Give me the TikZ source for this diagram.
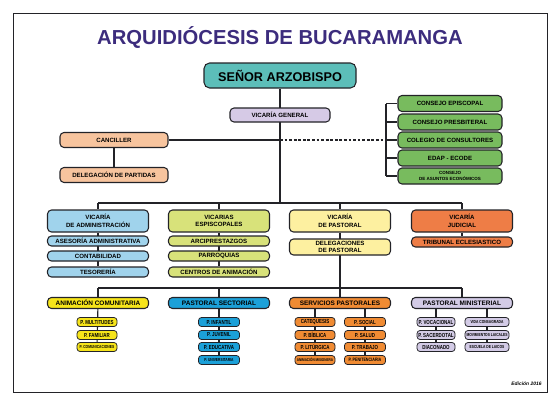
\documentclass[tikz,border=0pt]{standalone}
\usepackage{fontspec}
\setmainfont{Liberation Sans}
\newfontfamily\narrowsans[FakeStretch=0.76]{Liberation Sans}
\usetikzlibrary{backgrounds}
\definecolor{titlePurple}{RGB}{60,44,125}
\definecolor{boxLine}{RGB}{35,35,40}
\definecolor{arzTeal}{RGB}{92,190,185}
\definecolor{genLila}{RGB}{214,202,230}
\definecolor{cancPeach}{RGB}{247,196,158}
\definecolor{conseGreen}{RGB}{120,187,94}
\definecolor{admBlue}{RGB}{160,211,236}
\definecolor{epiOlive}{RGB}{216,226,122}
\definecolor{pasYellow}{RGB}{253,240,160}
\definecolor{judOrange}{RGB}{238,125,70}
\definecolor{animYellow}{RGB}{246,228,26}
\definecolor{sectBlue}{RGB}{27,160,216}
\definecolor{servOrange}{RGB}{240,139,51}
\definecolor{minLila}{RGB}{211,203,230}
\tikzset{
  box/.style={draw=boxLine,line width=1.5pt,rounded corners=0.2cm,inner sep=0pt,
    align=center,font=\bfseries\fontsize{8.7}{11}\selectfont},
  bigbox/.style={box,minimum width=5.05cm,minimum height=1.1cm},
  subbox/.style={box,minimum width=5.05cm,minimum height=0.5cm},
  secbox/.style={box,minimum width=5.05cm,minimum height=0.55cm,
    font=\bfseries\fontsize{9.2}{10}\selectfont},
  pbox/.style={box,line width=1.1pt,rounded corners=0.15cm,minimum height=0.45cm,
    font=\narrowsans\bfseries\fontsize{8.3}{9}\selectfont},
  pfine/.style={font=\narrowsans\bfseries\fontsize{6.2}{7}\selectfont},
  link/.style={draw=boxLine,line width=1.6pt}
}
\begin{document}
\begin{tikzpicture}[x=0.05cm,y=-0.05cm]
\useasboundingbox (0,0) rectangle (560,400);
\draw[boxLine,line width=1.3pt] (13,13) rectangle (547,392);
\node[font=\bfseries\fontsize{28.8}{30}\selectfont,text=titlePurple] (title) at (280,38) {ARQUIDIÓCESIS DE BUCARAMANGA};
\node[box,fill=arzTeal,minimum width=7.6cm,minimum height=1.25cm,rounded corners=0.28cm,
  font=\bfseries\fontsize{18}{19}\selectfont] (arz) at (280,75.5) {SEÑOR ARZOBISPO};
\node[box,fill=genLila,minimum width=5cm,minimum height=0.7cm] (vgen) at (280,115) {VICARÍA GENERAL};
\node[box,fill=cancPeach,minimum width=5.4cm,minimum height=0.75cm] (canc) at (114,140) {CANCILLER};
\node[box,fill=cancPeach,minimum width=5.4cm,minimum height=0.75cm] (delpar) at (114,175) {DELEGACIÓN DE PARTIDAS};
% consejos
\node[box,fill=conseGreen,minimum width=5.2cm,minimum height=0.8cm] (cepi) at (450,103.5) {CONSEJO EPISCOPAL};
\node[box,fill=conseGreen,minimum width=5.2cm,minimum height=0.8cm] (cpres) at (450,122) {CONSEJO PRESBITERAL};
\node[box,fill=conseGreen,minimum width=5.2cm,minimum height=0.8cm] (ccons) at (450,140) {COLEGIO DE CONSULTORES};
\node[box,fill=conseGreen,minimum width=5.2cm,minimum height=0.8cm] (cedap) at (450,158) {EDAP - ECODE};
\node[box,fill=conseGreen,minimum width=5.2cm,minimum height=0.8cm,
  font=\bfseries\fontsize{6.4}{7.5}\selectfont] (cecon) at (450,176) {CONSEJO\\DE ASUNTOS ECONÓMICOS};
\coordinate (brk) at (386,140);
% vicarias
\node[bigbox,fill=admBlue] (vadm) at (98,221) {VICARÍA\\DE ADMINISTRACIÓN};
\node[bigbox,fill=epiOlive] (vepi) at (219,221) {VICARIAS\\ESPISCOPALES};
\node[bigbox,fill=pasYellow] (vpas) at (340,221) {VICARÍA\\DE PASTORAL};
\node[bigbox,fill=judOrange] (vjud) at (462,221) {VICARÍA\\JUDICIAL};
\node[subbox,fill=admBlue] (ases) at (98,241) {ASESORÍA ADMINISTRATIVA};
\node[subbox,fill=admBlue] (cont) at (98,256) {CONTABILIDAD};
\node[subbox,fill=admBlue] (teso) at (98,272) {TESORERÍA};
\node[subbox,fill=epiOlive] (arci) at (219,241) {ARCIPRESTAZGOS};
\node[subbox,fill=epiOlive] (parr) at (219,256) {PARROQUIAS};
\node[subbox,fill=epiOlive] (cent) at (219,272) {CENTROS DE ANIMACIÓN};
\node[box,fill=pasYellow,minimum width=5.05cm,minimum height=0.8cm,
  font=\bfseries\fontsize{8.7}{9.5}\selectfont] (delpas) at (340,247) {DELEGACIONES\\DE PASTORAL};
\node[subbox,fill=judOrange] (trib) at (462,242) {TRIBUNAL ECLESIASTICO};
% pastoral
\node[secbox,fill=animYellow] (anim) at (98,303) {ANIMACIÓN COMUNITARIA};
\node[secbox,fill=sectBlue] (sect) at (219,303) {PASTORAL SECTORIAL};
\node[secbox,fill=servOrange] (serv) at (340,303) {SERVICIOS PASTORALES};
\node[secbox,fill=minLila] (mini) at (462,303) {PASTORAL MINISTERIAL};
\node[pbox,fill=animYellow,minimum width=2cm] (pmul) at (97,322) {P. MULTITUDES};
\node[pbox,fill=animYellow,minimum width=2cm] (pfam) at (97,335) {P. FAMILIAR};
\node[pbox,pfine,fill=animYellow,minimum width=2cm] (pcom) at (97,347) {P. COMUNICACIONES};
\node[pbox,fill=sectBlue,minimum width=2.05cm] (pinf) at (219,322) {P. INFANTIL};
\node[pbox,fill=sectBlue,minimum width=2.05cm] (pjuv) at (219,335) {P. JUVENIL};
\node[pbox,fill=sectBlue,minimum width=2.05cm] (pedu) at (219,347) {P. EDUCATIVA};
\node[pbox,pfine,fill=sectBlue,minimum width=2.05cm] (puni) at (219,360) {P. UNIVERSITARIA};
\node[pbox,fill=servOrange,minimum width=2cm] (cate) at (315,322) {CATEQUESIS};
\node[pbox,fill=servOrange,minimum width=2cm] (pbib) at (315,335) {P. BÍBLICA};
\node[pbox,fill=servOrange,minimum width=2cm] (plit) at (315,347) {P. LITÚRGICA};
\node[pbox,fill=servOrange,minimum width=2cm,font=\narrowsans\bfseries\fontsize{5.8}{6}\selectfont] (amis) at (315,360) {ANIMACIÓN MISIONERA};
\node[pbox,fill=servOrange,minimum width=2.05cm] (psoc) at (365,322) {P. SOCIAL};
\node[pbox,fill=servOrange,minimum width=2.05cm] (psal) at (365,335) {P. SALUD};
\node[pbox,fill=servOrange,minimum width=2.05cm] (ptra) at (365,347) {P. TRABAJO};
\node[pbox,fill=servOrange,minimum width=2.05cm,font=\narrowsans\bfseries\fontsize{6.9}{7}\selectfont] (ppen) at (365,360) {P. PENITENCIARIA};
\node[pbox,fill=minLila,minimum width=1.9cm] (pvoc) at (436,322) {P. VOCACIONAL};
\node[pbox,fill=minLila,minimum width=1.9cm] (psac) at (436,335) {P. SACERDOTAL};
\node[pbox,fill=minLila,minimum width=1.9cm] (diac) at (436,347) {DIACONADO};
\node[pbox,pfine,fill=minLila,minimum width=2.2cm] (vcon) at (487,322) {VIDA CONSAGRADA};
\node[pbox,pfine,fill=minLila,minimum width=2.2cm] (movl) at (487,335) {MOVIMIENTOS LAICALES};
\node[pbox,pfine,fill=minLila,minimum width=2.2cm] (escl) at (487,347) {ESCUELA DE LAICOS};
\node[anchor=east,font=\bfseries\itshape\fontsize{7}{8}\selectfont] (ed) at (544,384) {Edición 2016};
% conectores
\coordinate (busA) at (280,203);
\coordinate (busB) at (340,288);
\begin{pgfonlayer}{background}
\draw[link] (arz) -- (busA);
\draw[link] (canc.east) -- (canc.east -| vgen);
\draw[link,dash pattern=on 4pt off 2.5pt] (canc.east -| vgen) -- (brk);
\draw[link] (canc) -- (delpar);
\draw[link] (brk |- cepi) -- (brk |- cecon);
\foreach \c in {cepi,cpres,ccons,cedap,cecon}
  \draw[link] (brk |- \c) -- (\c.west);
\draw[link] (vadm.north |- busA) -- (vjud.north |- busA);
\foreach \v in {vadm,vepi,vpas,vjud}
  \draw[link] (\v.north |- busA) -- (\v.north);
\draw[link] (vadm) -- (teso);
\draw[link] (vepi) -- (cent);
\draw[link] (vpas) -- (busB);
\draw[link] (vjud) -- (trib);
\draw[link] (anim.north |- busB) -- (mini.north |- busB);
\foreach \v in {anim,sect,serv,mini}
  \draw[link] (\v.north |- busB) -- (\v.north);
\draw[link] (anim) -- (pcom);
\draw[link] (sect) -- (puni);
\draw[link] (cate |- serv) -- (amis);
\draw[link] (psoc |- serv) -- (ppen);
\draw[link] (pvoc |- mini) -- (diac);
\draw[link] (vcon |- mini) -- (escl);
\end{pgfonlayer}
\end{tikzpicture}
\end{document}
